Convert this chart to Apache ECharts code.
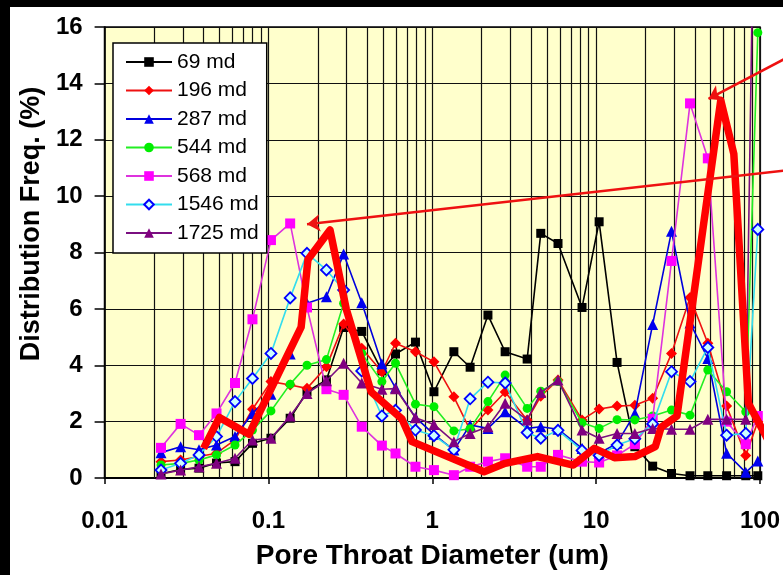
<!DOCTYPE html>
<html>
<head>
<meta charset="utf-8">
<script src="https://cdn.jsdelivr.net/npm/echarts@6/dist/echarts.min.js"></script>
<style>
html,body{margin:0;padding:0;background:#000;overflow:hidden;width:783px;height:575px;}
#c{position:absolute;left:10px;top:7px;width:773px;height:568px;background:#fff;}
</style>
</head>
<body>
<div id="c"></div>
<script>
// Pore throat diameter bins (um)
const diameters = [0.0221, 0.0291, 0.0377, 0.0482, 0.0625, 0.0799, 0.1036, 0.1357, 0.1719, 0.2259, 0.2877, 0.3711, 0.4925, 0.5964, 0.7894, 1.0235, 1.3545, 1.702, 2.186, 2.784, 3.793, 4.592, 5.852, 8.203, 10.43, 13.42, 17.23, 22.13, 28.85, 37.42, 48.05, 62.56, 81.89, 97.0];

const names = ['69 md', '196 md', '287 md', '544 md', '568 md', '1546 md', '1725 md'];

const md69   = [0.15, 0.3, 0.35, 0.53, 0.58, 1.23, 1.41, 2.12, 3.06, 3.48, 5.34, 5.2, 3.8, 4.4, 4.82, 3.06, 4.48, 3.93, 5.78, 4.48, 4.22, 8.68, 8.32, 6.05, 9.09, 4.1, 1.11, 0.42, 0.16, 0.08, 0.08, 0.08, 0.08, 0.08];
const md196  = [0.58, 0.64, 0.76, 0.88, 1.35, 2.44, 3.42, 3.3, 3.18, 3.95, 5.46, 4.6, 3.77, 4.78, 4.48, 4.12, 2.88, 1.7, 2.41, 3.05, 2.06, 2.9, 3.48, 2.06, 2.45, 2.55, 2.58, 2.83, 4.42, 6.4, 4.78, 2.55, 0.8, 2.0];
const md287  = [0.9, 1.11, 1.0, 1.17, 1.47, 2.29, 2.97, 4.4, 6.2, 6.43, 7.95, 6.22, 4.05, 3.2, 2.15, 1.55, 0.99, 1.88, 1.76, 2.35, 1.76, 1.82, 1.73, 1.05, 0.88, 1.23, 2.29, 5.45, 8.75, 5.5, 4.24, 0.88, 0.2, 0.6];
const md544  = [0.46, 0.52, 0.64, 0.82, 1.17, 1.7, 2.38, 3.33, 4.0, 4.2, 6.2, 4.42, 3.42, 4.07, 2.62, 2.53, 1.67, 1.75, 2.71, 3.65, 2.47, 3.08, 3.42, 1.96, 1.76, 2.07, 2.06, 2.2, 2.41, 2.23, 3.83, 3.06, 2.35, 15.8];
const md568  = [1.07, 1.92, 1.52, 2.29, 3.37, 5.63, 8.44, 9.03, 6.05, 3.15, 2.95, 1.82, 1.15, 0.87, 0.4, 0.28, 0.1, 0.4, 0.58, 0.7, 0.4, 0.4, 0.82, 0.58, 0.55, 0.8, 1.2, 2.1, 7.7, 13.29, 11.34, 2.0, 1.2, 2.2];
const md1546 = [0.28, 0.52, 0.82, 1.47, 2.71, 3.53, 4.42, 6.39, 7.97, 7.38, 6.67, 3.8, 2.2, 2.4, 1.7, 1.5, 1.0, 2.81, 3.4, 3.37, 1.61, 1.41, 1.69, 0.98, 0.8, 1.17, 1.39, 1.92, 3.77, 3.42, 4.63, 1.52, 1.58, 8.82];
const md1725 = [0.14, 0.28, 0.4, 0.52, 0.7, 1.35, 1.41, 2.2, 3.0, 3.45, 4.07, 3.37, 3.15, 3.17, 2.14, 1.9, 1.29, 1.58, 1.82, 2.65, 2.06, 3.03, 3.48, 1.7, 1.41, 1.58, 1.58, 1.76, 1.73, 1.73, 2.08, 2.08, 2.08, 30];

// hand-drawn thick red highlight curve (diameter, freq)
const highlightX = [0.0402, 0.0502, 0.0760, 0.1583, 0.1742, 0.2376, 0.2982, 0.4238, 0.6518, 0.7523, 2.070, 2.784, 4.390, 7.25, 9.74, 12.93, 17.23, 22.96, 24.93, 31.16, 57.64, 69.23, 84.97, 134];
const highlightY = [1.05, 2.15, 1.55, 5.35, 7.75, 8.8, 6.0, 3.05, 2.1, 1.29, 0.22, 0.52, 0.76, 0.46, 1.05, 0.72, 0.76, 1.11, 1.8, 2.2, 13.4, 11.5, 2.65, 0.5];

// annotation arrows: [startX, startY, endX, endY]
const arrow1 = [153.7, 14.98, 48.5, 13.45];
const arrow2 = [153.7, 10.93, 0.172, 9.0];

const minorGrid = [];
[0.01, 0.1, 1, 10].forEach(b => { for (let k = 2; k <= 9; k++) minorGrid.push(parseFloat((b * k).toPrecision(4))); });

const font = 'Liberation Sans, Arial, sans-serif';

const styles = [
  {line: '#000000', fill: '#000000', border: '#000000', symbol: 'rect', size: 9},
  {line: '#EE1111', fill: '#FF0000', border: '#FF0000', symbol: 'diamond', size: 11},
  {line: '#0000DD', fill: '#0000EE', border: '#0000EE', symbol: 'triangle', size: 11},
  {line: '#22EE22', fill: '#00EE00', border: '#00EE00', symbol: 'circle', size: 9},
  {line: '#DD33DD', fill: '#FF00FF', border: '#FF00FF', symbol: 'rect', size: 10},
  {line: '#33DDEE', fill: '#CCFFFF', border: '#0000FF', symbol: 'diamond', size: 11},
  {line: '#7A0F80', fill: '#800080', border: '#800080', symbol: 'triangle', size: 11}
];
const allData = [md69, md196, md287, md544, md568, md1546, md1725];

const series = [];
series.push({
  type: 'line', name: '_grid', data: [], silent: true,
  markLine: {
    silent: true, symbol: 'none', z: 1, animation: false,
    label: {show: false},
    lineStyle: {color: '#111', width: 1.2, type: 'solid'},
    emphasis: {disabled: true},
    data: minorGrid.map(v => ({xAxis: v}))
  }
});
allData.forEach((arr, i) => {
  const st = styles[i];
  series.push({
    type: 'line', name: names[i], z: 2 + i * 0.01,
    data: diameters.map((d, j) => [d, arr[j]]),
    symbol: st.symbol, symbolSize: st.size, showAllSymbol: true,
    lineStyle: {color: st.line, width: 1.6},
    itemStyle: {color: st.fill, borderColor: st.border, borderWidth: i === 5 ? 1.8 : 0},
    emphasis: {disabled: true}
  });
});
series.push({
  type: 'line', name: '_highlight', z: 5, clip: false, silent: true,
  data: highlightX.map((d, j) => [d, highlightY[j]]),
  symbol: 'none', lineStyle: {color: '#FF0000', width: 7.5, join: 'round'}
});
series.push({
  type: 'lines', name: '_arrows', coordinateSystem: 'cartesian2d', z: 6, clip: false, silent: true,
  symbol: ['none', 'arrow'], symbolSize: [0, 13],
  lineStyle: {color: '#EE1111', width: 2.5, opacity: 1, curveness: 0},
  data: [
    {coords: [[arrow1[0], arrow1[1]], [arrow1[2], arrow1[3]]]},
    {coords: [[arrow2[0], arrow2[1]], [arrow2[2], arrow2[3]]]}
  ]
});

const chart = echarts.init(document.getElementById('c'), null, {renderer: 'canvas'});
chart.setOption({
  animation: false,
  backgroundColor: '#ffffff',
  grid: {left: 85, top: 20, right: 17, bottom: 97, show: true, backgroundColor: '#FFFFCC', borderColor: '#000', borderWidth: 1.5, containLabel: false},
  legend: {
    data: names, orient: 'vertical', left: 103, top: 36,
    backgroundColor: '#ffffff', borderColor: '#000', borderWidth: 1.5,
    padding: [8, 8, 9, 12], itemWidth: 46, itemHeight: 12, itemGap: 6.5,
    textStyle: {fontFamily: font, fontSize: 21, color: '#000', lineHeight: 22},
    selectedMode: false
  },
  xAxis: {
    type: 'log', logBase: 10, min: 0.01, max: 100,
    name: 'Pore Throat Diameter (um)', nameLocation: 'middle', nameGap: 64,
    nameTextStyle: {fontFamily: font, fontSize: 28, fontWeight: 'bold', color: '#000'},
    axisLine: {show: true, lineStyle: {color: '#000', width: 2}},
    axisTick: {show: true, length: 6, lineStyle: {color: '#000', width: 1.5}},
    axisLabel: {fontFamily: font, fontSize: 24, fontWeight: 'bold', color: '#000', margin: 31,
      formatter: v => String(parseFloat(Number(v).toPrecision(6)))},
    splitLine: {show: true, lineStyle: {color: '#111', width: 1.2}}
  },
  yAxis: {
    type: 'value', min: 0, max: 16, interval: 2,
    name: 'Distribution Freq. (%)', nameLocation: 'middle', nameGap: 46,
    nameTextStyle: {fontFamily: font, fontSize: 27, fontWeight: 'bold', color: '#000', padding: [0, 0, 0, 57]},
    axisLine: {show: true, lineStyle: {color: '#000', width: 1.5}},
    axisTick: {show: true, length: 10, lineStyle: {color: '#000', width: 1.5}},
    axisLabel: {fontFamily: font, fontSize: 24, fontWeight: 'bold', color: '#000', margin: 22},
    splitLine: {show: true, lineStyle: {color: '#111', width: 1.2}}
  },
  series: series
});
</script>
</body>
</html>
